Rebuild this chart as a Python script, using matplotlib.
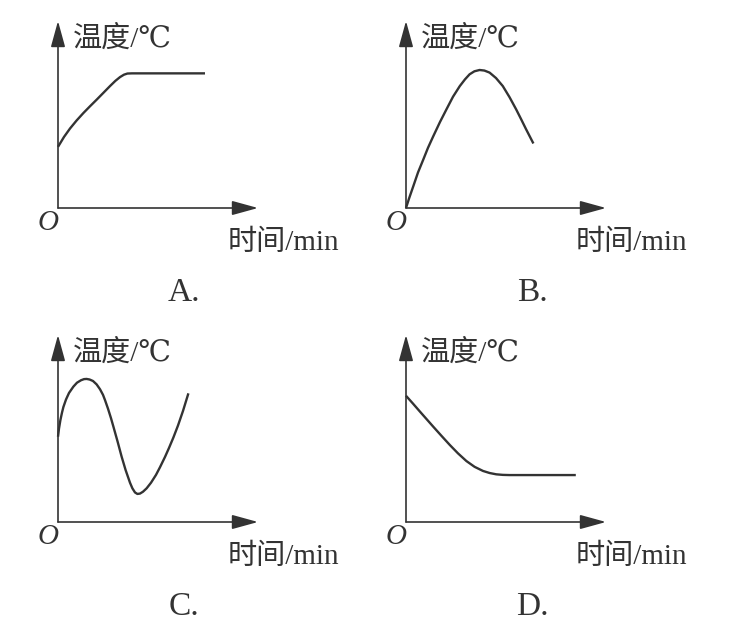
import matplotlib
matplotlib.use("Agg")
import matplotlib.pyplot as plt
from matplotlib.patches import ArrowStyle

# ---- data (time, temperature), arbitrary units ----
a_time = [0.0, 0.3, 0.6, 0.93, 1.27, 1.6, 1.93, 2.27, 2.6, 2.87, 3.1, 3.3, 3.47, 3.7, 7.35]
a_temp = [3.27, 3.8, 4.25, 4.68, 5.08, 5.44, 5.79, 6.16, 6.52, 6.8, 7.0, 7.13, 7.19, 7.2, 7.2]

b_time = [0.0, 0.15, 0.36, 0.6, 0.86, 1.1, 1.36, 1.7, 2.02, 2.35, 2.69, 2.95, 3.18,
          3.42, 3.68, 3.92, 4.18, 4.5, 4.84, 5.18, 5.51, 5.76, 6.0, 6.37]
b_temp = [0.0, 0.5, 1.15, 1.9, 2.58, 3.22, 3.83, 4.6, 5.27, 5.95, 6.52, 6.88, 7.15,
          7.31, 7.38, 7.35, 7.24, 6.95, 6.52, 5.92, 5.27, 4.74, 4.22, 3.45]

c_time = [0.0, 0.05, 0.12, 0.2, 0.27, 0.4, 0.55, 0.77, 0.95, 1.15, 1.3, 1.43, 1.58,
          1.75, 1.93, 2.1, 2.25, 2.35, 2.5, 2.65, 2.77, 2.98, 3.18, 3.38, 3.6, 3.72,
          3.85, 3.97, 4.1, 4.25, 4.43, 4.65, 4.9, 5.1, 5.35, 5.55, 5.77, 6.0, 6.25, 6.52]
c_temp = [4.56, 5.0, 5.45, 5.85, 6.15, 6.55, 6.9, 7.24, 7.45, 7.58, 7.64, 7.65, 7.62,
          7.54, 7.36, 7.1, 6.8, 6.52, 6.06, 5.55, 5.10, 4.3, 3.5, 2.78, 2.1, 1.8,
          1.58, 1.5, 1.52, 1.62, 1.8, 2.1, 2.52, 2.93, 3.48, 3.96, 4.52, 5.16, 5.94, 6.88]

d_time = [0.0, 0.35, 0.7, 1.03, 1.36, 1.78, 2.19, 2.6, 3.02, 3.43, 3.85, 4.18, 4.51,
          4.84, 5.17, 8.49]
d_temp = [6.75, 6.33, 5.9, 5.5, 5.1, 4.6, 4.12, 3.67, 3.26, 2.95, 2.73, 2.62, 2.55,
          2.52, 2.51, 2.51]

panel_labels = ["A.", "B.", "C.", "D."]
y_label = "温度/℃"
x_label = "时间/min"
origin_label = "O"

# ---- layout ----
W, H = 733, 629
fig = plt.figure(figsize=(W / 100, H / 100), dpi=100)
fig.patch.set_facecolor("white")

# origin pixel positions (x from left, y from top)
origins = [(58, 208), (406, 208), (58, 522), (406, 522)]
ax_w_px, ax_h_px = 200, 187

series = [(a_time, a_temp), (b_time, b_temp), (c_time, c_temp), (d_time, d_temp)]

ink = "#333333"
fam = ["Liberation Serif", "DejaVu Serif", "Noto Sans CJK SC"]


def fx(px):
    return px / W


def fy(py):
    return 1 - py / H


arrow = ArrowStyle("-|>", head_length=0.8, head_width=0.22)

for (ox, oy), (tx, ty), lab in zip(origins, series, panel_labels):
    ax = fig.add_axes([fx(ox), fy(oy), ax_w_px / W, ax_h_px / H])
    ax.set_xlim(0, 10)
    ax.set_ylim(0, 10)
    ax.axis("off")
    # axes arrows
    for end in [(1, 0), (0, 1)]:
        ax.annotate("", xy=end, xytext=(0, 0), xycoords="axes fraction",
                    textcoords="axes fraction",
                    arrowprops=dict(arrowstyle=arrow, mutation_scale=20,
                                    color=ink, lw=1.2, shrinkA=0, shrinkB=0),
                    annotation_clip=False)
    ax.plot(tx, ty, color=ink, lw=1.7, clip_on=False, solid_capstyle="butt",
            solid_joinstyle="round")

    # texts
    fig.text(fx(ox + 15), fy(oy - 169), y_label, family=fam, fontsize=21,
             color=ink, ha="left", va="center")
    fig.text(fx(ox + 170), fy(oy + 35), x_label, family=fam, fontsize=21,
             color=ink, ha="left", va="center")
    fig.text(fx(ox - 10), fy(oy + 15), origin_label, family=fam, fontsize=21,
             style="italic", color=ink, ha="center", va="center")
    fig.text(fx(ox + 126), fy(oy + 85), lab, family=fam, fontsize=24,
             color=ink, ha="center", va="center")

fig.savefig("out.png", dpi=100, facecolor="white")
